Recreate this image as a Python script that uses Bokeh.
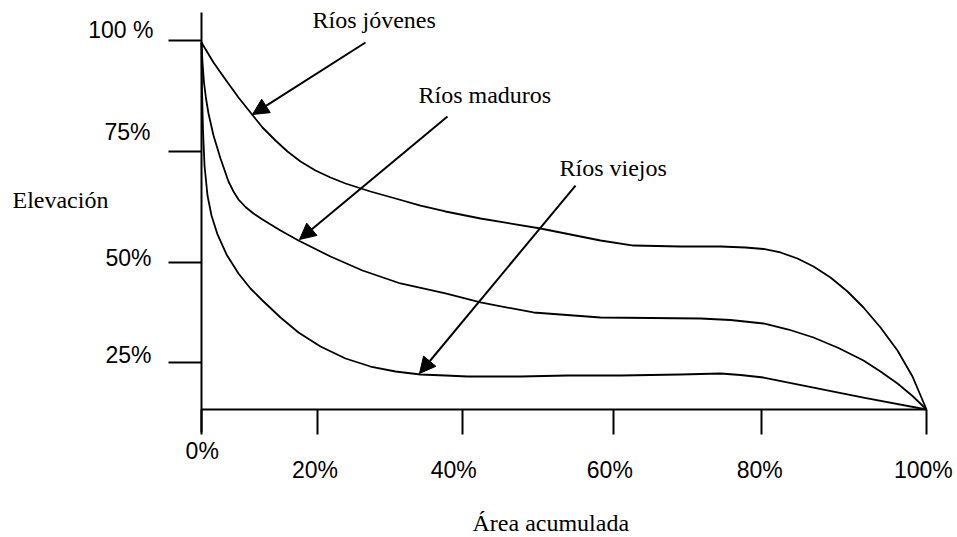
from bokeh.plotting import figure
from bokeh.models import (Range1d, FixedTicker, Label, Arrow, NormalHead,
                          ColumnDataSource)
from bokeh.embed import file_html
from bokeh.resources import INLINE

# ---------------- data (drawing units: x 0-100 along the axis, y 0 at the x axis) ----
x_tick_pos = [0.0, 16.0, 36.0, 56.8, 77.2, 100.0]
x_tick_labels = ["0%", "20%", "40%", "60%", "80%", "100%"]
y_tick_pos = [100.0, 69.9, 39.8, 12.7]
y_tick_labels = ["100 %", "75%", "50%", "25%"]

jovenes_x = [0.0, 1.655, 3.310, 5.103, 6.759, 8.414, 10.207, 11.862, 13.655, 15.724,
             17.793, 19.862, 23.310, 26.759, 30.207, 33.655, 38.483, 46.759, 55.034,
             59.586, 66.069, 71.586, 75.034, 77.517, 79.862, 82.207, 84.414, 86.759,
             89.103, 91.310, 93.655, 96.0, 98.069, 100.0]
jovenes_y = [99.46, 94.04, 89.43, 84.55, 80.49, 76.42, 72.90, 69.92, 67.21, 64.77,
             62.87, 61.25, 59.08, 57.18, 55.28, 53.66, 51.76, 49.05, 45.80, 44.44,
             44.17, 44.17, 43.90, 43.50, 42.55, 40.92, 38.75, 35.77, 31.98, 27.64,
             22.22, 15.99, 8.94, 0.0]

maduros_x = [0.0, 0.138, 0.345, 0.621, 0.966, 1.655, 2.621, 3.724, 4.414, 5.103, 6.069,
             7.172, 8.414, 10.897, 13.379, 17.793, 22.207, 27.448, 33.655, 38.483,
             45.793, 55.034, 68.828, 72.966, 77.517, 80.966, 84.414, 87.862, 91.310,
             93.655, 96.0, 98.069, 100.0]
maduros_y = [99.46, 94.04, 88.62, 84.28, 80.22, 74.25, 68.02, 61.79, 59.08, 56.91,
             54.88, 53.12, 51.49, 48.51, 45.80, 41.46, 37.67, 34.15, 31.44, 29.00,
             26.29, 24.93, 24.66, 24.25, 23.31, 21.68, 19.51, 16.67, 13.28, 10.30,
             7.05, 3.66, 0.0]

viejos_x = [0.0, 0.069, 0.207, 0.414, 0.828, 1.379, 2.207, 3.448, 5.103, 6.759, 8.414,
            10.897, 13.379, 16.414, 19.862, 23.310, 26.759, 30.207, 33.655, 36.690,
            44.0, 50.483, 57.793, 66.069, 71.586, 74.345, 77.517, 84.414, 91.310,
            100.0]
viejos_y = [99.46, 86.45, 75.61, 66.12, 57.99, 52.57, 47.43, 42.01, 36.86, 32.79,
            29.54, 24.93, 20.87, 17.07, 13.82, 11.65, 10.30, 9.49, 9.21, 8.94, 8.94,
            9.21, 9.21, 9.49, 9.76, 9.35, 8.67, 5.96, 3.25, 0.0]

series_names = ["Ríos jóvenes", "Ríos maduros", "Ríos viejos"]
x_title = "Área acumulada"
y_title = "Elevación"

# arrows (start -> tip), drawing units
arrow_x0 = [22.62, 33.93, 51.59]
arrow_y0 = [99.46, 79.40, 60.70]
arrow_x1 = [7.03, 13.52, 30.07]
arrow_y1 = [79.95, 46.07, 9.76]

# label anchors, drawing units
name_x = [15.31, 29.93, 49.38]
name_y = [105.42, 85.10, 65.58]
xlab_x = [0.1, 15.66, 34.8, 56.32, 77.0, 99.56]
xlab_y = [-11.38, -16.26, -16.26, -16.26, -16.26, -16.26]
ylab_x = [-6.62, -7.03, -6.9, -6.9]
ylab_y = [102.98, 75.07, 41.19, 14.64]
ytitle_pos = (-26.07, 56.64)
xtitle_pos = (37.38, -30.89)

SANS = "Liberation Sans"
SERIF = "Liberation Serif"

p = figure(width=957, height=537, output_backend="svg", toolbar_location=None,
           x_range=Range1d(-27.724, 104.276), y_range=Range1d(-34.688, 110.84),
           min_border_left=0, min_border_right=0, min_border_top=0,
           min_border_bottom=0)
p.outline_line_color = None
p.xgrid.visible = False
p.ygrid.visible = False
p.background_fill_color = "white"
p.border_fill_color = "white"

for ax in (p.xaxis[0], p.yaxis[0]):
    ax.axis_line_color = "black"
    ax.axis_line_width = 2
    ax.major_tick_line_color = "black"
    ax.major_tick_line_width = 2
    ax.major_tick_in = 0
    ax.minor_tick_line_color = None
    ax.major_label_text_font_size = "0px"
    ax.fixed_location = 0

p.xaxis[0].ticker = FixedTicker(ticks=x_tick_pos)
p.xaxis[0].major_label_overrides = {t: "" for t in x_tick_pos}
p.xaxis[0].major_tick_out = 25
p.xaxis[0].bounds = (0, 100)

p.yaxis[0].ticker = FixedTicker(ticks=y_tick_pos)
p.yaxis[0].major_label_overrides = {t: "" for t in y_tick_pos}
p.yaxis[0].major_tick_out = 33
p.yaxis[0].bounds = (-6.23, 107.6)

for xs, ys in ((jovenes_x, jovenes_y), (maduros_x, maduros_y), (viejos_x, viejos_y)):
    p.line(xs, ys, line_color="black", line_width=1.8, line_join="round")

arrow_src = ColumnDataSource(dict(x0=arrow_x0, y0=arrow_y0, x1=arrow_x1, y1=arrow_y1))
p.add_layout(Arrow(end=NormalHead(size=16, fill_color="black", line_color="black",
                                  line_width=1),
                   x_start="x0", y_start="y0", x_end="x1", y_end="y1",
                   source=arrow_src, line_color="black", line_width=2))

for name, x, y in zip(series_names, name_x, name_y):
    p.add_layout(Label(x=x, y=y, text=name, text_font=SERIF, text_font_size="24px",
                       text_color="black", text_align="left",
                       text_baseline="alphabetic"))

for t, x, y in zip(x_tick_labels, xlab_x, xlab_y):
    p.add_layout(Label(x=x, y=y, text=t, text_font=SANS, text_font_size="23px",
                       text_color="black", text_align="center",
                       text_baseline="alphabetic"))

for t, x, y in zip(y_tick_labels, ylab_x, ylab_y):
    p.add_layout(Label(x=x, y=y, text=t, text_font=SANS, text_font_size="23px",
                       text_color="black", text_align="right",
                       text_baseline="alphabetic"))

p.add_layout(Label(x=ytitle_pos[0], y=ytitle_pos[1], text=y_title, text_font=SERIF,
                   text_font_size="24px", text_color="black", text_align="left",
                   text_baseline="alphabetic"))
p.add_layout(Label(x=xtitle_pos[0], y=xtitle_pos[1], text=x_title, text_font=SERIF,
                   text_font_size="24px", text_color="black", text_align="left",
                   text_baseline="alphabetic"))

open("out.html", "w").write(file_html(p, INLINE))
